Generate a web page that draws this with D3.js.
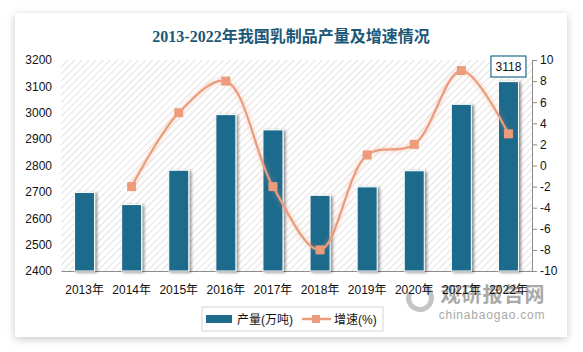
<!DOCTYPE html>
<html>
<head>
<meta charset="utf-8">
<script src="https://cdn.jsdelivr.net/npm/d3@7"></script>
<style>
  body { margin: 0; background: #fff; }
  text { font-family: "Liberation Sans", "Noto Sans CJK SC", sans-serif; }
</style>
</head>
<body>
<div id="chart"></div>
<script>
// data
const years = ["2013年", "2014年", "2015年", "2016年", "2017年", "2018年", "2019年", "2020年", "2021年", "2022年"];
const output = [2698, 2652, 2782, 2993, 2935, 2687, 2719, 2780, 3032, 3118];
const growth = [null, -2.0, 5.0, 8.0, -2.0, -8.0, 1.0, 2.0, 9.0, 3.0];
const leftTicks = [2400, 2500, 2600, 2700, 2800, 2900, 3000, 3100, 3200];
const rightTicks = [-10, -8, -6, -4, -2, 0, 2, 4, 6, 8, 10];

const W = 583, H = 352;
const barColor = "#1e6b8c", lineColor = "#ec9c7b";
const plot = { left: 61, right: 532, top: 60, bottom: 271 };

const svg = d3.select("#chart").append("svg")
    .attr("width", W)
    .attr("height", H);

const defs = svg.append("defs");

// card shadow
let cardShadow = defs.append("filter").attr("id", "cardShadow")
    .attr("x", "-10%").attr("y", "-10%").attr("width", "120%").attr("height", "120%");
cardShadow.append("feDropShadow").attr("dx", 0).attr("dy", 2).attr("stdDeviation", 4)
    .attr("flood-color", "#000").attr("flood-opacity", 0.22);

// bar shadow
let barShadow = defs.append("filter").attr("id", "barShadow")
    .attr("x", "-30%").attr("y", "-10%").attr("width", "160%").attr("height", "120%");
barShadow.append("feDropShadow").attr("dx", 2).attr("dy", 1).attr("stdDeviation", 1.5)
    .attr("flood-color", "#000").attr("flood-opacity", 0.45);

// line glow
let glow = defs.append("filter").attr("id", "glow")
    .attr("x", "-10%").attr("y", "-20%").attr("width", "120%").attr("height", "140%");
glow.append("feDropShadow").attr("dx", 0).attr("dy", 0).attr("stdDeviation", 2.5)
    .attr("flood-color", lineColor).attr("flood-opacity", 0.6);

// hatch pattern for plot background
let hatch = defs.append("pattern").attr("id", "hatch")
    .attr("patternUnits", "userSpaceOnUse")
    .attr("width", 5).attr("height", 5)
    .attr("patternTransform", "rotate(45)");
hatch.append("rect").attr("width", 5).attr("height", 5).attr("fill", "#fff");
hatch.append("line").attr("x1", 0).attr("y1", 0).attr("x2", 0).attr("y2", 5)
    .attr("stroke", "#cfcfcf").attr("stroke-width", 1.2);

// card
svg.append("rect")
    .attr("x", 15).attr("y", 13)
    .attr("width", 552).attr("height", 324)
    .attr("fill", "#fff")
    .attr("filter", "url(#cardShadow)");

// title
svg.append("text")
    .attr("x", 291).attr("y", 42)
    .attr("text-anchor", "middle")
    .style("font-family", "'Liberation Serif', 'Noto Sans CJK SC', serif")
    .style("font-size", "16px")
    .style("font-weight", "bold")
    .attr("fill", "#1b5877")
    .text("2013-2022年我国乳制品产量及增速情况");

// scales
const x = d3.scaleBand()
    .domain(years)
    .range([plot.left, plot.right])
    .paddingInner(0.575)
    .paddingOuter(0.2875);

const y = d3.scaleLinear().domain([2400, 3200]).range([plot.bottom, plot.top]);
const y2 = d3.scaleLinear().domain([-10, 10]).range([plot.bottom, plot.top]);

// plot background
svg.append("rect")
    .attr("x", plot.left).attr("y", plot.top)
    .attr("width", plot.right - plot.left)
    .attr("height", plot.bottom - plot.top)
    .attr("fill", "url(#hatch)");

// watermark (sits under the x labels, as in the original)
let wm = svg.append("g").attr("fill", "#a9a9a9");
wm.append("text")
    .attr("x", 493).attr("y", 302)
    .attr("text-anchor", "middle")
    .style("font-family", "'Noto Sans CJK SC', sans-serif")
    .style("font-size", "20px")
    .style("font-weight", "bold")
    .attr("letter-spacing", "1px")
    .text("观研报告网");
wm.append("text")
    .attr("x", 492).attr("y", 319)
    .attr("text-anchor", "middle")
    .style("font-size", "12px")
    .attr("letter-spacing", "0.8px")
    .text("chinabaogao.com");
wm.append("path")
    .attr("d", d3.arc()({ innerRadius: 9, outerRadius: 14, startAngle: 0.4, endAngle: 5.2 }))
    .attr("transform", "translate(420,298)")
    .attr("fill", "#c4c4c4");

// left axis
let leftAxis = svg.append("g")
    .attr("transform", "translate(" + plot.left + ",0)")
    .call(d3.axisLeft(y).tickValues(leftTicks).tickFormat(d => String(d)).tickSize(0).tickPadding(9));
leftAxis.select(".domain").remove();

// right axis
let rightAxis = svg.append("g")
    .attr("transform", "translate(" + plot.right + ",0)")
    .call(d3.axisRight(y2).tickValues(rightTicks).tickFormat(d => String(d)).tickSize(5).tickPadding(3));
rightAxis.select(".domain").attr("stroke", "#8c8c8c");
rightAxis.selectAll(".tick line").attr("stroke", "#8c8c8c");

// bottom axis
let bottomAxis = svg.append("g")
    .attr("transform", "translate(0," + plot.bottom + ")")
    .call(d3.axisBottom(x).tickSize(0).tickPadding(14));
bottomAxis.select(".domain").attr("stroke", "#8c8c8c").attr("stroke-width", 1.2);

svg.selectAll(".tick text")
    .style("font-size", "12px")
    .attr("fill", "#111");

// bars
svg.append("g").selectAll("rect")
    .data(output)
    .enter()
    .append("rect")
    .attr("x", (d, i) => x(years[i]))
    .attr("y", d => y(d))
    .attr("width", x.bandwidth())
    .attr("height", d => plot.bottom - y(d))
    .attr("fill", barColor)
    .attr("stroke", "#fff")
    .attr("stroke-width", 1)
    .attr("filter", "url(#barShadow)");

// growth line
let pts = growth.map((g, i) => ({ year: years[i], value: g })).filter(d => d.value !== null);
let line = d3.line()
    .x(d => x(d.year) + x.bandwidth() / 2)
    .y(d => y2(d.value))
    .curve(d3.curveCatmullRom.alpha(0.5));

svg.append("path")
    .datum(pts)
    .attr("d", line)
    .attr("fill", "none")
    .attr("stroke", lineColor)
    .attr("stroke-width", 2.2)
    .attr("filter", "url(#glow)");

svg.append("g").selectAll("rect")
    .data(pts)
    .enter()
    .append("rect")
    .attr("x", d => x(d.year) + x.bandwidth() / 2 - 4.5)
    .attr("y", d => y2(d.value) - 4.5)
    .attr("width", 9)
    .attr("height", 9)
    .attr("fill", lineColor);

// label for last bar
let lastX = x(years[9]) + x.bandwidth() / 2;
svg.append("rect")
    .attr("x", lastX - 17.5).attr("y", 56)
    .attr("width", 35).attr("height", 21)
    .attr("fill", "#fff")
    .attr("stroke", barColor)
    .attr("stroke-width", 1.2);
svg.append("text")
    .attr("x", lastX).attr("y", 71)
    .attr("text-anchor", "middle")
    .style("font-size", "12px")
    .attr("fill", "#111")
    .text(output[9]);

// legend
let legend = svg.append("g");
legend.append("rect")
    .attr("x", 202).attr("y", 307)
    .attr("width", 181).attr("height", 24)
    .attr("fill", "#fff")
    .attr("stroke", "#d4d4d4");
legend.append("rect")
    .attr("x", 206).attr("y", 315)
    .attr("width", 26).attr("height", 8)
    .attr("fill", barColor);
legend.append("text")
    .attr("x", 237).attr("y", 324)
    .style("font-size", "12px")
    .attr("fill", "#111")
    .text("产量(万吨)");
legend.append("line")
    .attr("x1", 302).attr("x2", 331)
    .attr("y1", 319).attr("y2", 319)
    .attr("stroke", lineColor)
    .attr("stroke-width", 2.5);
legend.append("rect")
    .attr("x", 312).attr("y", 315)
    .attr("width", 8).attr("height", 8)
    .attr("fill", lineColor);
legend.append("text")
    .attr("x", 334).attr("y", 324)
    .style("font-size", "12px")
    .attr("fill", "#111")
    .text("增速(%)");
</script>
</body>
</html>
